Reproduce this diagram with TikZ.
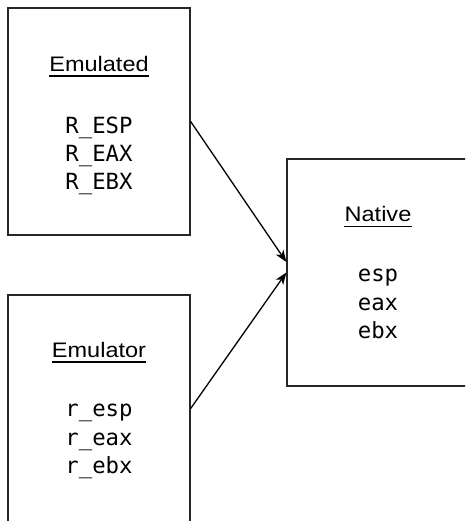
\documentclass[tikz,border=0pt]{standalone}
\usepackage{fontspec}
\setmainfont{Liberation Sans}
\newfontfamily\titlefont[FakeStretch=1.12]{Liberation Sans}
\newfontfamily\regfont{DejaVu Sans Mono}
\usetikzlibrary{arrows.meta}

\tikzset{
  box/.style={draw=black!85, line width=1.3pt, rectangle, minimum width=182pt,
              minimum height=227pt, inner sep=0pt},
  title/.style={anchor=base, inner sep=0pt, font=\titlefont\fontsize{21}{25}\selectfont},
  reg/.style={anchor=base, inner sep=0pt, font=\regfont\fontsize{22.3}{28}\selectfont},
  uline/.style={line width=1.7pt},
  link/.style={line width=1.3pt, -{Stealth[length=12pt,width=9pt,inset=3.5pt]}},
}

\begin{document}
\begin{tikzpicture}[x=1pt,y=-1pt]
  \useasboundingbox (0,0) rectangle (465,521);
  \clip (0,0) rectangle (465,521);

  % the three register files
  \node[box] (emulated) at (99,121.5) {};
  \node[box] (emulator) at (99,408.5) {};
  \node[box] (native)   at (378,272.5) {};

  % Emulated
  \node[title] (tEmulated) at (99,71.7) {Emulated};
  \node[reg] (emA) at (99,134)   {R\_ESP};
  \node[reg] (emB) at (99,162)   {R\_EAX};
  \node[reg] (emC) at (99,189.5) {R\_EBX};

  % Emulator
  \node[title] (tEmulator) at (99,357.5) {Emulator};
  \node[reg] (erA) at (99,416.7) {r\_esp};
  \node[reg] (erB) at (99,445)   {r\_eax};
  \node[reg] (erC) at (99,473)   {r\_ebx};

  % Native
  \node[title] (tNative) at (378,222) {Native};
  \node[reg] (nA) at (378,281.7) {esp};
  \node[reg] (nB) at (378,310)   {eax};
  \node[reg] (nC) at (378,338)   {ebx};

  % underlined headings
  \foreach \t in {tEmulated,tEmulator,tNative}
    \draw[uline] ([yshift=-4.6pt]\t.base west) -- ([yshift=-4.6pt]\t.base east);

  % connectors into the native registers
  \draw[link] (emulated.east) -- ([yshift=10.5pt]native.west);
  \draw[link] (emulator.east) -- (native.west);
\end{tikzpicture}
\end{document}
